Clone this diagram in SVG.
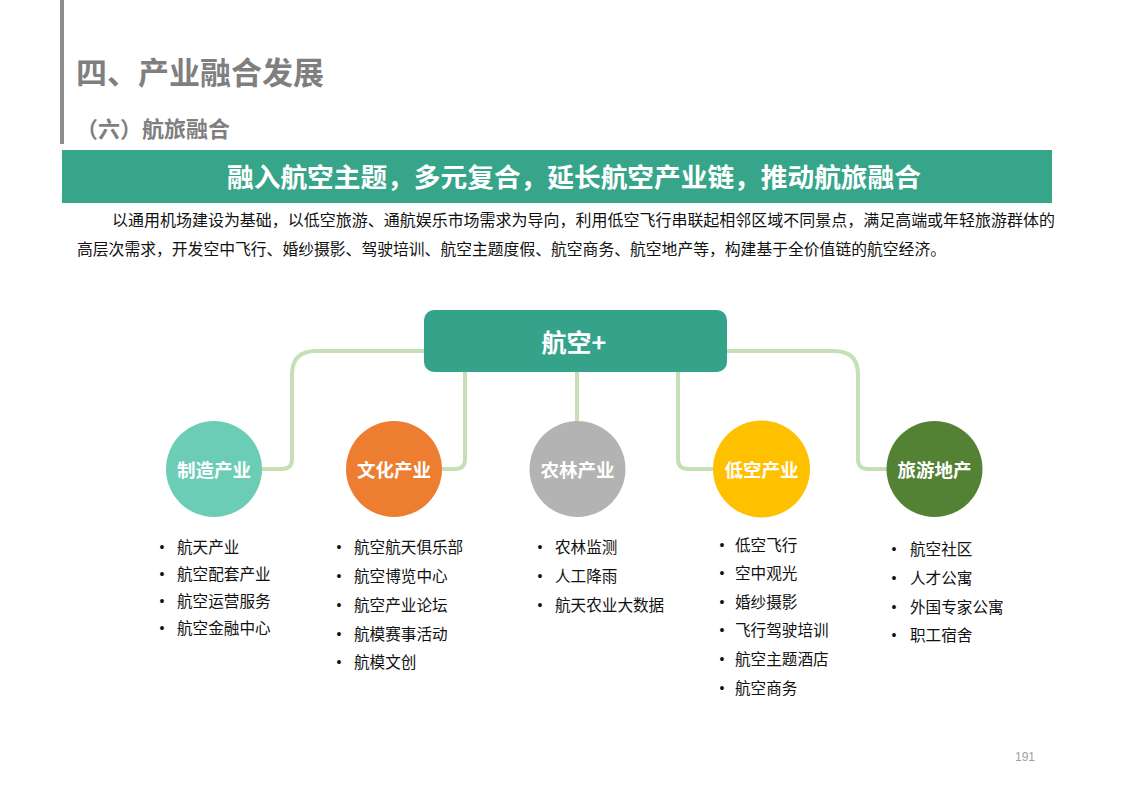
<svg xmlns="http://www.w3.org/2000/svg" width="1122" height="793" viewBox="0 0 1122 793">
<style>
text{font-family:"Noto Sans CJK SC","Liberation Sans",sans-serif}
.title{font-size:31px;font-weight:bold;fill:#7f7f7f}
.sub{font-size:22px;font-weight:bold;fill:#7f7f7f}
.bar{font-size:26.7px;font-weight:bold;fill:#fff}
.para{font-size:15.8px;fill:#111}
.ct{font-size:18.5px;font-weight:bold;fill:#fff}
.li{font-size:15.6px;fill:#111}
.bu{font-family:"Liberation Sans",sans-serif;font-size:14px;fill:#111;text-anchor:middle}
.pg{font-family:"Liberation Sans",sans-serif;font-size:12px;fill:#a0a0a0}
.conn{fill:none;stroke:#c5e0b4;stroke-width:4;stroke-linecap:round;stroke-linejoin:round}
</style>
<rect width="1122" height="793" fill="#fff"/>
<rect x="60" y="0" width="4" height="144" fill="#8c8c8c"/>
<text class="title" x="76" y="84">四、产业融合发展</text>
<text class="sub" x="76" y="137">（六）航旅融合</text>
<rect x="62" y="150" width="990" height="53" fill="#37a58a"/>
<text class="bar" x="574" y="187" text-anchor="middle">融入航空主题，多元复合，延长航空产业链，推动航旅融合</text>
<text class="para" x="112" y="226" textLength="943" lengthAdjust="spacingAndGlyphs">以通用机场建设为基础，以低空旅游、通航娱乐市场需求为导向，利用低空飞行串联起相邻区域不同景点，满足高端或年轻旅游群体的</text>
<text class="para" x="77" y="255" textLength="869" lengthAdjust="spacingAndGlyphs">高层次需求，开发空中飞行、婚纱摄影、驾驶培训、航空主题度假、航空商务、航空地产等，构建基于全价值链的航空经济。</text>

<g id="connectors">
<path class="conn" d="M424,351 H316 Q292,351 292,375 V459 Q292,469 282,469 H262"/>
<path class="conn" d="M465,372 V459 Q465,469 455,469 H442"/>
<path class="conn" d="M577,372 V421"/>
<path class="conn" d="M678,372 V459 Q678,469 688,469 H713"/>
<path class="conn" d="M727,351 H834 Q858,351 858,375 V459 Q858,469 868,469 H887"/>
</g>

<g id="hub">
<rect x="424" y="310" width="303" height="62" rx="10" fill="#35a38a"/>
<text x="574" y="352" text-anchor="middle" font-size="25" font-weight="bold" fill="#fff" style="font-size:25px;font-weight:bold;fill:#fff">航空+</text>
</g>

<g id="node-zhizao">
<circle cx="214" cy="469" r="48" fill="#6ccdb7"/>
<text class="ct" x="214" y="477" text-anchor="middle">制造产业</text>
</g>
<g id="node-wenhua">
<circle cx="394" cy="469" r="48" fill="#ed7d31"/>
<text class="ct" x="394" y="477" text-anchor="middle">文化产业</text>
</g>
<g id="node-nonglin">
<circle cx="577.5" cy="469" r="48" fill="#b3b3b3"/>
<text class="ct" x="577.5" y="477" text-anchor="middle">农林产业</text>
</g>
<g id="node-dikong">
<circle cx="761.5" cy="469" r="48.5" fill="#ffc000"/>
<text class="ct" x="761.5" y="477" text-anchor="middle">低空产业</text>
</g>
<g id="node-lvyou">
<circle cx="934.5" cy="469" r="48" fill="#548235"/>
<text class="ct" x="934.5" y="477" text-anchor="middle">旅游地产</text>
</g>

<g id="list-zhizao">
<text class="bu" x="162" y="552">•</text><text class="li" x="177" y="553">航天产业</text>
<text class="bu" x="162" y="579">•</text><text class="li" x="177" y="580">航空配套产业</text>
<text class="bu" x="162" y="606">•</text><text class="li" x="177" y="607">航空运营服务</text>
<text class="bu" x="162" y="633">•</text><text class="li" x="177" y="634">航空金融中心</text>
</g>
<g id="list-wenhua">
<text class="bu" x="339" y="552">•</text><text class="li" x="354" y="553">航空航天俱乐部</text>
<text class="bu" x="339" y="581">•</text><text class="li" x="354" y="582">航空博览中心</text>
<text class="bu" x="339" y="610">•</text><text class="li" x="354" y="611">航空产业论坛</text>
<text class="bu" x="339" y="639">•</text><text class="li" x="354" y="640">航模赛事活动</text>
<text class="bu" x="339" y="667">•</text><text class="li" x="354" y="668">航模文创</text>
</g>
<g id="list-nonglin">
<text class="bu" x="540" y="552">•</text><text class="li" x="555" y="553">农林监测</text>
<text class="bu" x="540" y="581">•</text><text class="li" x="555" y="582">人工降雨</text>
<text class="bu" x="540" y="610">•</text><text class="li" x="555" y="611">航天农业大数据</text>
</g>
<g id="list-dikong">
<text class="bu" x="722" y="550">•</text><text class="li" x="735" y="551">低空飞行</text>
<text class="bu" x="722" y="578">•</text><text class="li" x="735" y="579">空中观光</text>
<text class="bu" x="722" y="607">•</text><text class="li" x="735" y="608">婚纱摄影</text>
<text class="bu" x="722" y="635">•</text><text class="li" x="735" y="636">飞行驾驶培训</text>
<text class="bu" x="722" y="664">•</text><text class="li" x="735" y="665">航空主题酒店</text>
<text class="bu" x="722" y="693">•</text><text class="li" x="735" y="694">航空商务</text>
</g>
<g id="list-lvyou">
<text class="bu" x="894" y="554">•</text><text class="li" x="910" y="555">航空社区</text>
<text class="bu" x="894" y="583">•</text><text class="li" x="910" y="584">人才公寓</text>
<text class="bu" x="894" y="612">•</text><text class="li" x="910" y="613">外国专家公寓</text>
<text class="bu" x="894" y="640">•</text><text class="li" x="910" y="641">职工宿舍</text>
</g>

<text class="pg" x="1025" y="761" text-anchor="middle">191</text>
</svg>
